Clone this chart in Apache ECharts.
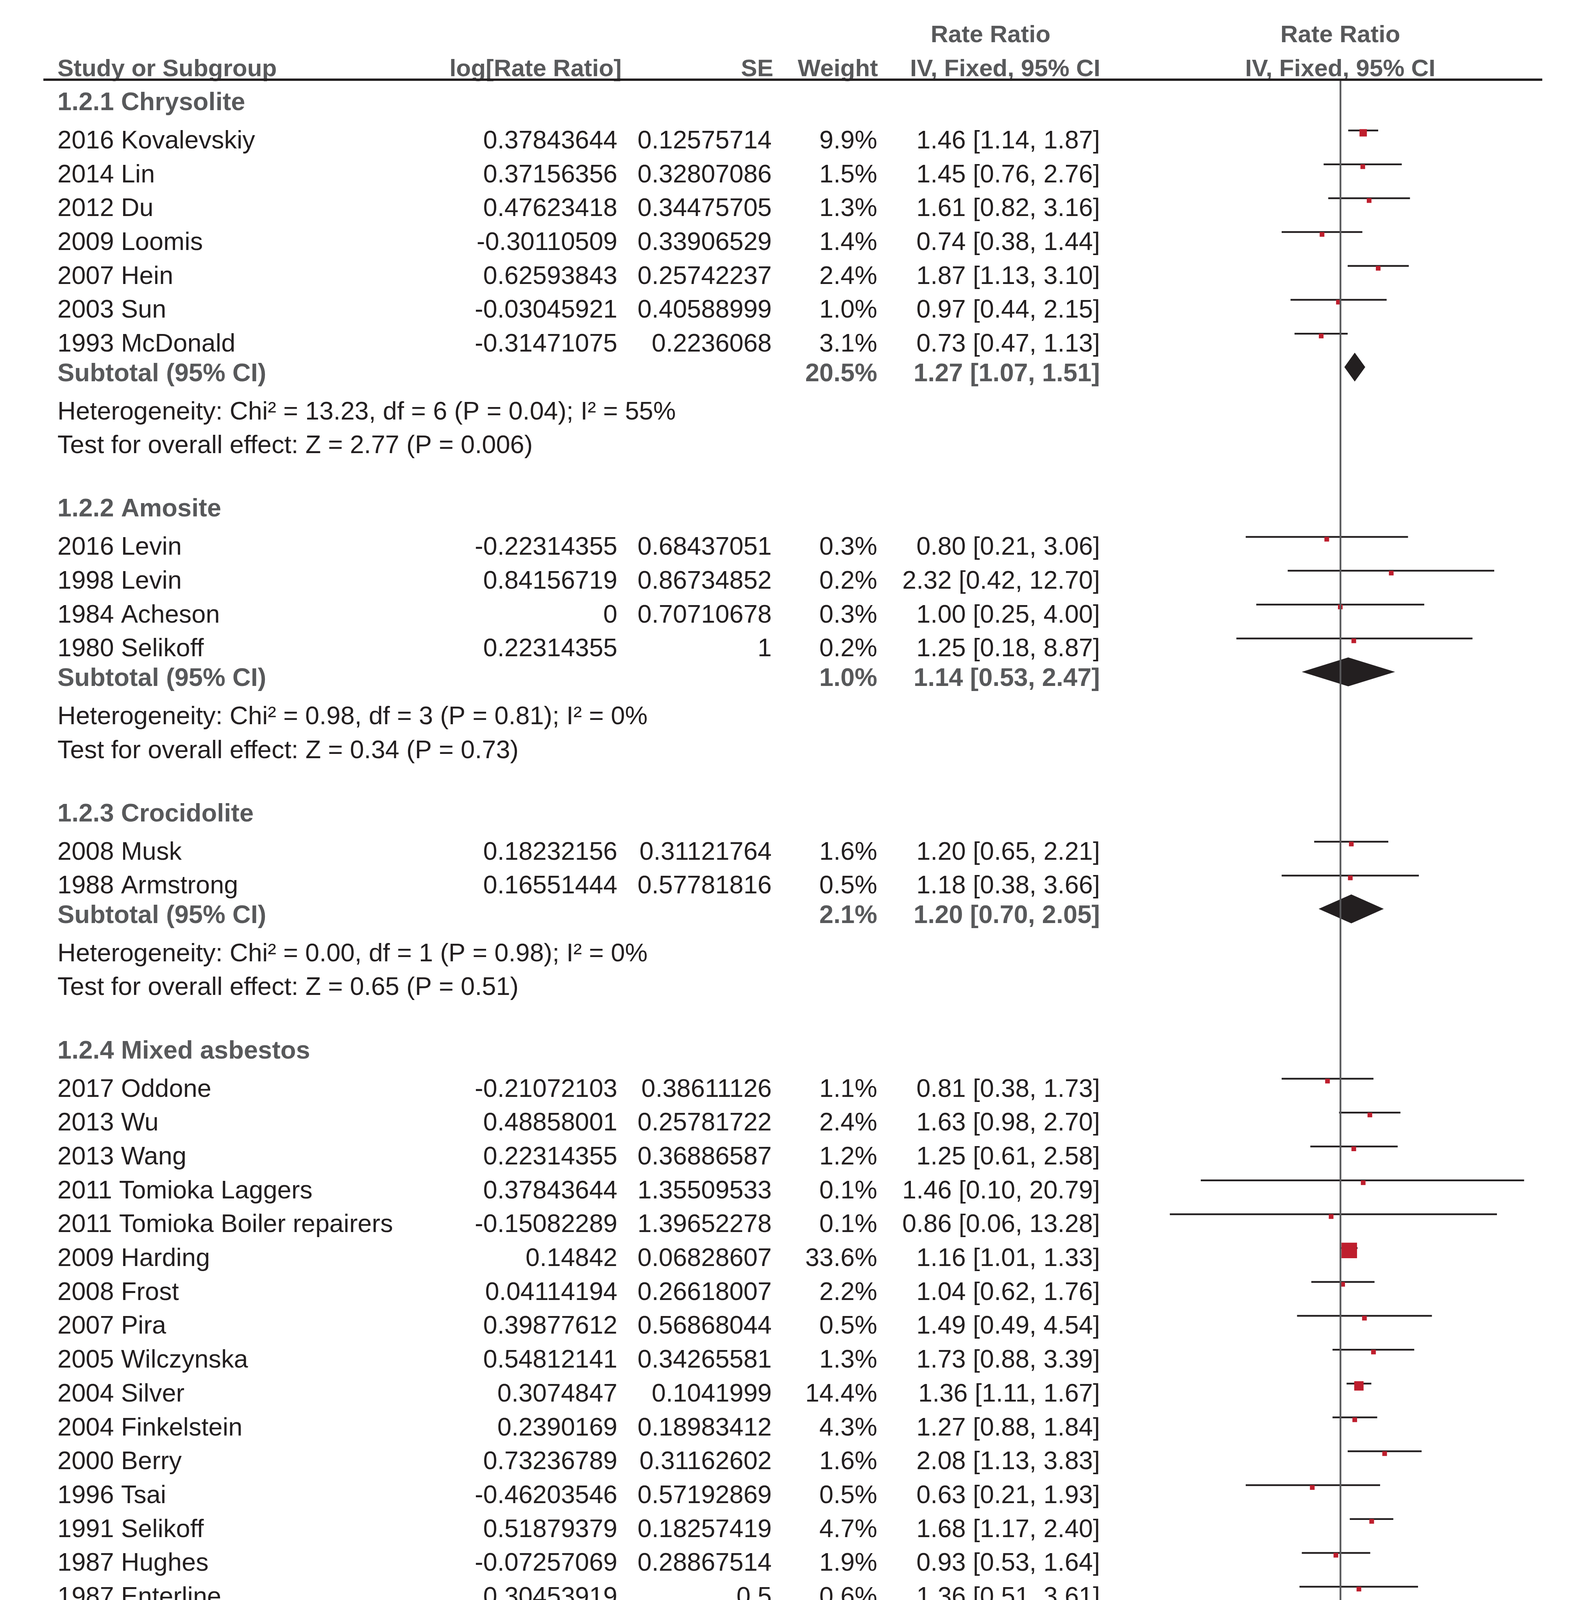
<!DOCTYPE html>
<html><head><meta charset="utf-8">
<script src="https://cdn.jsdelivr.net/npm/echarts@6/dist/echarts.min.js"></script>
<style>html,body{margin:0;padding:0;background:#fff;overflow:hidden}#chart{width:4064px;height:5408px}</style>
</head><body><div id="chart"></div>
<script>
// ---------------- DATA ----------------
const groupNames = ['1.2.1 Chrysolite', '1.2.2 Amosite', '1.2.3 Crocidolite', '1.2.4 Mixed asbestos'];
const groupSizes = [7, 4, 2, 22];
const studyNames = [
  '2016 Kovalevskiy','2014 Lin','2012 Du','2009 Loomis','2007 Hein','2003 Sun','1993 McDonald',
  '2016 Levin','1998 Levin','1984 Acheson','1980 Selikoff',
  '2008 Musk','1988 Armstrong',
  '2017 Oddone','2013 Wu','2013 Wang','2011 Tomioka Laggers','2011 Tomioka Boiler repairers','2009 Harding',
  '2008 Frost','2007 Pira','2005 Wilczynska','2004 Silver','2004 Finkelstein','2000 Berry','1996 Tsai',
  '1991 Selikoff','1987 Hughes','1987 Enterline','1986 Hodgson Pre-1969','1986 Hodgson Post-1969',
  '1986 Gardner','1985 Peto','1979 Selikoff','1963 Mancuso'
];
const logRR = [
  0.37843644, 0.37156356, 0.47623418, -0.30110509, 0.62593843, -0.03045921, -0.31471075,
  -0.22314355, 0.84156719, 0, 0.22314355,
  0.18232156, 0.16551444,
  -0.21072103, 0.48858001, 0.22314355, 0.37843644, -0.15082289, 0.14842,
  0.04114194, 0.39877612, 0.54812141, 0.3074847, 0.2390169, 0.73236789, -0.46203546,
  0.51879379, -0.07257069, 0.30453919, -0.45098562, -0.82098055,
  -1.25176347, 0.51222464, 0.9282193, 0.63498827
];
const seVals = [
  0.12575714, 0.32807086, 0.34475705, 0.33906529, 0.25742237, 0.40588999, 0.2236068,
  0.68437051, 0.86734852, 0.70710678, 1,
  0.31121764, 0.57781816,
  0.38611126, 0.25781722, 0.36886587, 1.35509533, 1.39652278, 0.06828607,
  0.26618007, 0.56868044, 0.34265581, 0.1041999, 0.18983412, 0.31162602, 0.57192869,
  0.18257419, 0.28867514, 0.5, 0.40824829, 1,
  1, 0.30151134, 0.23570226, 1
];
const weights = [
  9.9, 1.5, 1.3, 1.4, 2.4, 1.0, 3.1,
  0.3, 0.2, 0.3, 0.2,
  1.6, 0.5,
  1.1, 2.4, 1.2, 0.1, 0.1, 33.6,
  2.2, 0.5, 1.3, 14.4, 4.3, 1.6, 0.5,
  4.7, 1.9, 0.6, 0.9, 0.2,
  0.2, 1.7, 2.8, 0.2
];
const rr = [
  1.46, 1.45, 1.61, 0.74, 1.87, 0.97, 0.73,
  0.80, 2.32, 1.00, 1.25,
  1.20, 1.18,
  0.81, 1.63, 1.25, 1.46, 0.86, 1.16,
  1.04, 1.49, 1.73, 1.36, 1.27, 2.08, 0.63,
  1.68, 0.93, 1.36, 0.64, 0.44,
  0.29, 1.67, 2.53, 1.89
];
const ciLo = [
  1.14, 0.76, 0.82, 0.38, 1.13, 0.44, 0.47,
  0.21, 0.42, 0.25, 0.18,
  0.65, 0.38,
  0.38, 0.98, 0.61, 0.10, 0.06, 1.01,
  0.62, 0.49, 0.88, 1.11, 0.88, 1.13, 0.21,
  1.17, 0.53, 0.51, 0.29, 0.06,
  0.04, 0.92, 1.59, 0.27
];
const ciHi = [
  1.87, 2.76, 3.16, 1.44, 3.10, 2.15, 1.13,
  3.06, 12.70, 4.00, 8.87,
  2.21, 3.66,
  1.73, 2.70, 2.58, 20.79, 13.28, 1.33,
  1.76, 4.54, 3.39, 1.67, 1.84, 3.83, 1.93,
  2.40, 1.64, 3.61, 1.42, 3.12,
  2.03, 3.01, 4.02, 13.40
];
const subWeight = [20.5, 1.0, 2.1, 76.4];
const subRR = [1.27, 1.14, 1.20, 1.28];
const subLo = [1.07, 0.53, 0.70, 1.17];
const subHi = [1.51, 2.47, 2.05, 1.40];
const subHet = [
  'Heterogeneity: Chi\u00b2 = 13.23, df = 6 (P = 0.04); I\u00b2 = 55%',
  'Heterogeneity: Chi\u00b2 = 0.98, df = 3 (P = 0.81); I\u00b2 = 0%',
  'Heterogeneity: Chi\u00b2 = 0.00, df = 1 (P = 0.98); I\u00b2 = 0%',
  'Heterogeneity: Chi\u00b2 = 29.25, df = 21 (P = 0.11); I\u00b2 = 28%'
];
const subTest = [
  'Test for overall effect: Z = 2.77 (P = 0.006)',
  'Test for overall effect: Z = 0.34 (P = 0.73)',
  'Test for overall effect: Z = 0.65 (P = 0.51)',
  'Test for overall effect: Z = 5.49 (P < 0.00001)'
];
const totalWeight = [100.0];
const totalRR = [1.28];
const totalLo = [1.18];
const totalHi = [1.38];
const totalNotes = [
  'Heterogeneity: Chi\u00b2 = 43.61, df = 34 (P = 0.13); I\u00b2 = 22%',
  'Test for overall effect: Z = 6.18 (P < 0.00001)',
  'Test for subgroup differences: Chi\u00b2 = 0.15, df = 3 (P = 0.99), I\u00b2 = 0%'
];
const tickValues = [0.05, 0.2, 1, 5, 20];
const tickLabels = ['0.05', '0.2', '1', '5', '20'];
const headerTop = ['Rate Ratio', 'Rate Ratio'];
const headerCols = ['Study or Subgroup', 'log[Rate Ratio]', 'SE', 'Weight', 'IV, Fixed, 95% CI', 'IV, Fixed, 95% CI'];

// ---------------- LAYOUT ----------------
const W = 4064, H = 5408, UNIT = 86.7, Y0 = 360;
const COL = { name: 147, log: 1580, se: 1975, weight: 2245, ci: 2815, ciHead: 2535, plot: 3430, headLog: 1591, headSE: 1979, headW: 2247, headCI: 2816 };
const PLOT = { left: 2873, right: 3951, top: 207, axisY: 5100 };
const X_MIN = Math.pow(10, (PLOT.left - COL.plot) / 357.0);
const X_MAX = Math.pow(10, (PLOT.right - COL.plot) / 357.0);
const TEXT_DY = 2;
const GREY = '#58595b', BLACK = '#231f20', RED = '#be1e2d';
const FONT = 'Liberation Sans';

const toRow = px => (px - Y0) / UNIT;
const fmt2 = v => v.toFixed(2);
const ciText = (e, l, h) => fmt2(e) + ' [' + fmt2(l) + ', ' + fmt2(h) + ']';

const texts = [];
const marks = [];
const diamonds = [];
function T(x, row, text, align, style) { texts.push({ x, row, text, align, style }); }

T(COL.ciHead, -3.13, headerTop[0], 'center', 'head');
T(COL.plot, -3.13, headerTop[1], 'center', 'head');
const hRow = -2.12;
T(COL.name, hRow, headerCols[0], 'left', 'head');
T(COL.headLog, hRow, headerCols[1], 'right', 'head');
T(COL.headSE, hRow, headerCols[2], 'right', 'head');
T(COL.headW, hRow, headerCols[3], 'right', 'head');
T(COL.headCI, hRow, headerCols[4], 'right', 'head');
T(COL.plot, hRow, headerCols[5], 'center', 'head');

let r = 0, si = 0, lastTest = 0;
groupNames.forEach((g, gi) => {
  const n = groupSizes[gi];
  T(COL.name, r - 1.13, g, 'left', 'bold');
  for (let k = 0; k < n; k++, si++) {
    const row = r + k;
    T(COL.name, row, studyNames[si], 'left', 'normal');
    T(COL.log, row, String(logRR[si]), 'right', 'normal');
    T(COL.se, row, String(seVals[si]), 'right', 'normal');
    T(COL.weight, row, weights[si].toFixed(1) + '%', 'right', 'normal');
    T(COL.ci, row, ciText(rr[si], ciLo[si], ciHi[si]), 'right', 'normal');
    marks.push([rr[si], row, ciLo[si], ciHi[si], weights[si]]);
  }
  const subRow = r + n - 1 + 0.87;
  T(COL.name, subRow, 'Subtotal (95% CI)', 'left', 'bold');
  T(COL.weight, subRow, subWeight[gi].toFixed(1) + '%', 'right', 'bold');
  T(COL.ci, subRow, ciText(subRR[gi], subLo[gi], subHi[gi]), 'right', 'bold');
  diamonds.push([subRR[gi], subRow, subLo[gi], subHi[gi]]);
  T(COL.name, r + n + 1, subHet[gi], 'left', 'normal');
  T(COL.name, r + n + 2, subTest[gi], 'left', 'normal');
  lastTest = r + n + 2;
  r = r + n + 5;
});
const totRow = lastTest + 1.86;
T(COL.name, totRow, 'Total (95% CI)', 'left', 'bold');
T(COL.weight, totRow, totalWeight[0].toFixed(1) + '%', 'right', 'bold');
T(COL.ci, totRow, ciText(totalRR[0], totalLo[0], totalHi[0]), 'right', 'bold');
diamonds.push([totalRR[0], totRow, totalLo[0], totalHi[0]]);
totalNotes.forEach((t, i) => T(COL.name, totRow + 1.11 + i, t, 'left', 'normal'));

const STY = {
  head:   { fill: GREY, fontWeight: 'bold', fontSize: 62 },
  bold:   { fill: GREY, fontWeight: 'bold', fontSize: 65 },
  normal: { fill: BLACK, fontWeight: 'normal', fontSize: 65 }
};

const y1Min = toRow(PLOT.top), y1Max = toRow(PLOT.axisY);

const option = {
  animation: false,
  backgroundColor: '#ffffff',
  grid: [
    { left: 0, right: 0, top: 0, bottom: 0 },
    { left: PLOT.left, right: W - PLOT.right, top: PLOT.top, bottom: H - PLOT.axisY }
  ],
  xAxis: [
    { type: 'value', gridIndex: 0, min: 0, max: W, show: false },
    { type: 'log', logBase: 10, gridIndex: 1, min: X_MIN, max: X_MAX, position: 'bottom',
      axisLine: { show: true, onZero: false, lineStyle: { color: BLACK, width: 7 } },
      axisTick: { show: false }, axisLabel: { show: false }, splitLine: { show: false } }
  ],
  yAxis: [
    { type: 'value', gridIndex: 0, min: toRow(0), max: toRow(H), inverse: true, show: false },
    { type: 'value', gridIndex: 1, min: y1Min, max: y1Max, inverse: true, show: false }
  ],
  graphic: [
    { type: 'line', z: 10, shape: { x1: 111, y1: 204, x2: 3947, y2: 204 }, style: { stroke: BLACK, lineWidth: 6 } }
  ],
  series: [
    {
      type: 'custom', name: 'table', xAxisIndex: 0, yAxisIndex: 0, clip: false,
      data: texts.map(t => [t.x, t.row]),
      renderItem: (params, api) => {
        const t = texts[params.dataIndex];
        const p = api.coord([api.value(0), api.value(1)]);
        const s = STY[t.style];
        return { type: 'text', x: p[0], y: p[1] + TEXT_DY,
          style: { text: t.text, fill: s.fill, fontSize: s.fontSize, fontWeight: s.fontWeight, fontFamily: FONT,
                   align: t.align, verticalAlign: 'middle' } };
      }
    },
    {
      type: 'custom', name: 'ci', xAxisIndex: 1, yAxisIndex: 1, clip: false, z: 2,
      data: marks,
      renderItem: (params, api) => {
        const row = api.value(1);
        const pl = api.coord([api.value(2), row]);
        const ph = api.coord([api.value(3), row]);
        const y = pl[1] - 26;
        return { type: 'line', shape: { x1: pl[0], y1: y, x2: ph[0], y2: y }, style: { stroke: BLACK, lineWidth: 4.5 } };
      }
    },
    {
      type: 'custom', name: 'vline', xAxisIndex: 1, yAxisIndex: 1, z: 3,
      data: [],
      renderItem: () => null,
      markLine: { silent: true, symbol: 'none', label: { show: false },
        lineStyle: { color: GREY, width: 4.5, type: 'solid' }, data: [{ xAxis: 1 }] }
    },
    {
      type: 'custom', name: 'squares', xAxisIndex: 1, yAxisIndex: 1, clip: false, z: 4,
      data: marks,
      renderItem: (params, api) => {
        const p = api.coord([api.value(0), api.value(1)]);
        const w = api.value(4);
        const s = Math.max(12, 7.9 * Math.sqrt(w) - 6);
        const cy = p[1] - 26 + 6;
        return { type: 'rect', shape: { x: p[0] - s / 2, y: cy - s / 2, width: s, height: s }, style: { fill: RED } };
      }
    },
    {
      type: 'custom', name: 'diamonds', xAxisIndex: 1, yAxisIndex: 1, clip: false, z: 4,
      data: diamonds,
      renderItem: (params, api) => {
        const row = api.value(1);
        const pe = api.coord([api.value(0), row]);
        const pl = api.coord([api.value(2), row]);
        const ph = api.coord([api.value(3), row]);
        const cy = pe[1] - 16, hh = 37;
        return { type: 'polygon', shape: { points: [[pl[0], cy], [pe[0], cy - hh], [ph[0], cy], [pe[0], cy + hh]] },
                 style: { fill: BLACK } };
      }
    },
    {
      type: 'custom', name: 'ticks', xAxisIndex: 1, yAxisIndex: 1, clip: false, z: 5,
      data: tickValues.map(v => [v, y1Max]),
      renderItem: (params, api) => {
        const p = api.coord([api.value(0), api.value(1)]);
        return { type: 'group', children: [
          { type: 'line', shape: { x1: p[0], y1: p[1] - 22, x2: p[0], y2: p[1] + 22 }, style: { stroke: BLACK, lineWidth: 3.5 } },
          { type: 'text', x: p[0], y: p[1] + 70 + TEXT_DY,
            style: { text: tickLabels[params.dataIndex], fill: BLACK, fontSize: 65, fontFamily: FONT, align: 'center', verticalAlign: 'middle' } }
        ] };
      }
    }
  ]
};
const chart = echarts.init(document.getElementById('chart'), null, { renderer: 'canvas', width: W, height: H });
chart.setOption(option);
</script>
</body></html>
